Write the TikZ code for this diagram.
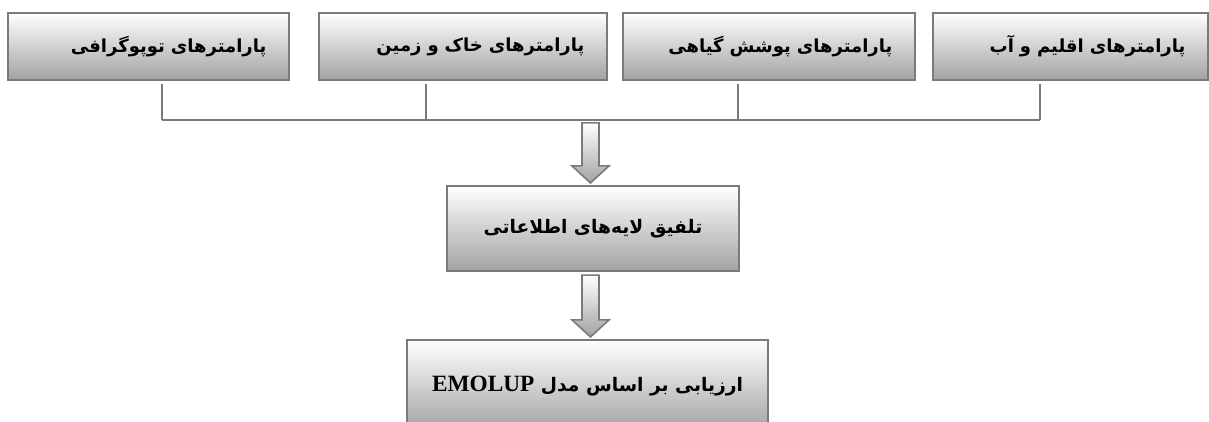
\documentclass[tikz,border=0pt]{standalone}
\usepackage{fontspec}
\newfontfamily\farsi[Script=Arabic]{DejaVu Sans}
\newfontfamily\latinb{Liberation Serif}
\TeXXeTstate=1
\usetikzlibrary{calc}

\definecolor{boxline}{HTML}{7A7A7A}
\definecolor{boxbot}{HTML}{A2A2A2}

\tikzset{
	param/.style={rectangle, draw=boxline, line width=1.6pt, top color=white, bottom color=boxbot,
		minimum height=50.25pt, inner xsep=17pt, align=right, font=\farsi\bfseries\fontsize{13.5}{15}\selectfont},
	stage/.style={rectangle, draw=boxline, line width=1.6pt, top color=white, bottom color=boxbot,
		align=center, font=\farsi\bfseries\fontsize{14}{16}\selectfont},
	link/.style={draw=boxline, line width=1.4pt},
	arrowfill/.style={draw=boxline, line width=1.2pt, top color=white, bottom color=boxbot}
}

% block arrow from #1 (top) to #2 (tip)
\newcommand{\blockarr}[2]{%
	\shade[arrowfill] ($(#1)+(-8.5,0)$) -- ($(#1)+(8.5,0)$) -- ($(#2)+(8.5,-17)$) -- ($(#2)+(18.5,-17)$)
		-- (#2) -- ($(#2)+(-18.5,-17)$) -- ($(#2)+(-8.5,-17)$) -- cycle;}

\begin{document}
\begin{tikzpicture}[x=0.75pt, y=-0.75pt]
	\clip (0,0) rectangle (1209,421);

	% Parameters
	\node[param, minimum width=210.75pt, text width=176.75pt] (topo) at (148.5,46.5) {\beginR پارامترهای توپوگرافی\endR};
	\node[param, minimum width=216pt, text width=182pt] (soil) at (463,46.5) {\beginR پارامترهای خاک و زمین\endR};
	\node[param, minimum width=219pt, text width=185pt] (veg) at (769,46.5) {\beginR پارامترهای پوشش گیاهی\endR};
	\node[param, minimum width=206.25pt, text width=172.25pt] (clim) at (1070.5,46.5) {\beginR پارامترهای اقلیم و آب\endR};

	% Stages
	\node[stage, minimum width=219pt, minimum height=63.75pt] (fuse) at (593,228.5) {\beginR تلفیق لایه‌های اطلاعاتی\endR};
	\node[stage, minimum width=270.75pt, minimum height=69pt] (model) at (587.5,386) {\beginR ارزیابی بر اساس مدل \beginL{\latinb\bfseries\fontsize{17.5}{19}\selectfont EMOLUP}\endL\endR};

	% Connections
	\coordinate (bus1) at ($(topo.south)+(13.5,39)$);
	\coordinate (bus2) at ($(soil.south)+(-37,39)$);
	\coordinate (bus3) at ($(veg.south)+(-31,39)$);
	\coordinate (bus4) at ($(clim.south)+(-30.5,39)$);
	\draw[link] ($(topo.south)+(13.5,3)$) -- (bus1);
	\draw[link] ($(soil.south)+(-37,3)$) -- (bus2);
	\draw[link] ($(veg.south)+(-31,3)$) -- (bus3);
	\draw[link] ($(clim.south)+(-30.5,3)$) -- (bus4);
	\draw[link] (bus1) -- (bus4);

	\coordinate (a1s) at ($(fuse.north)+(-2.5,-62)$);
	\coordinate (a1e) at ($(fuse.north)+(-2.5,-2)$);
	\blockarr{a1s}{a1e}
	\coordinate (a2s) at ($(fuse.south)+(-2.5,3)$);
	\coordinate (a2e) at ($(model.north)+(3,-2)$);
	\blockarr{a2s}{a2e}
\end{tikzpicture}
\end{document}
